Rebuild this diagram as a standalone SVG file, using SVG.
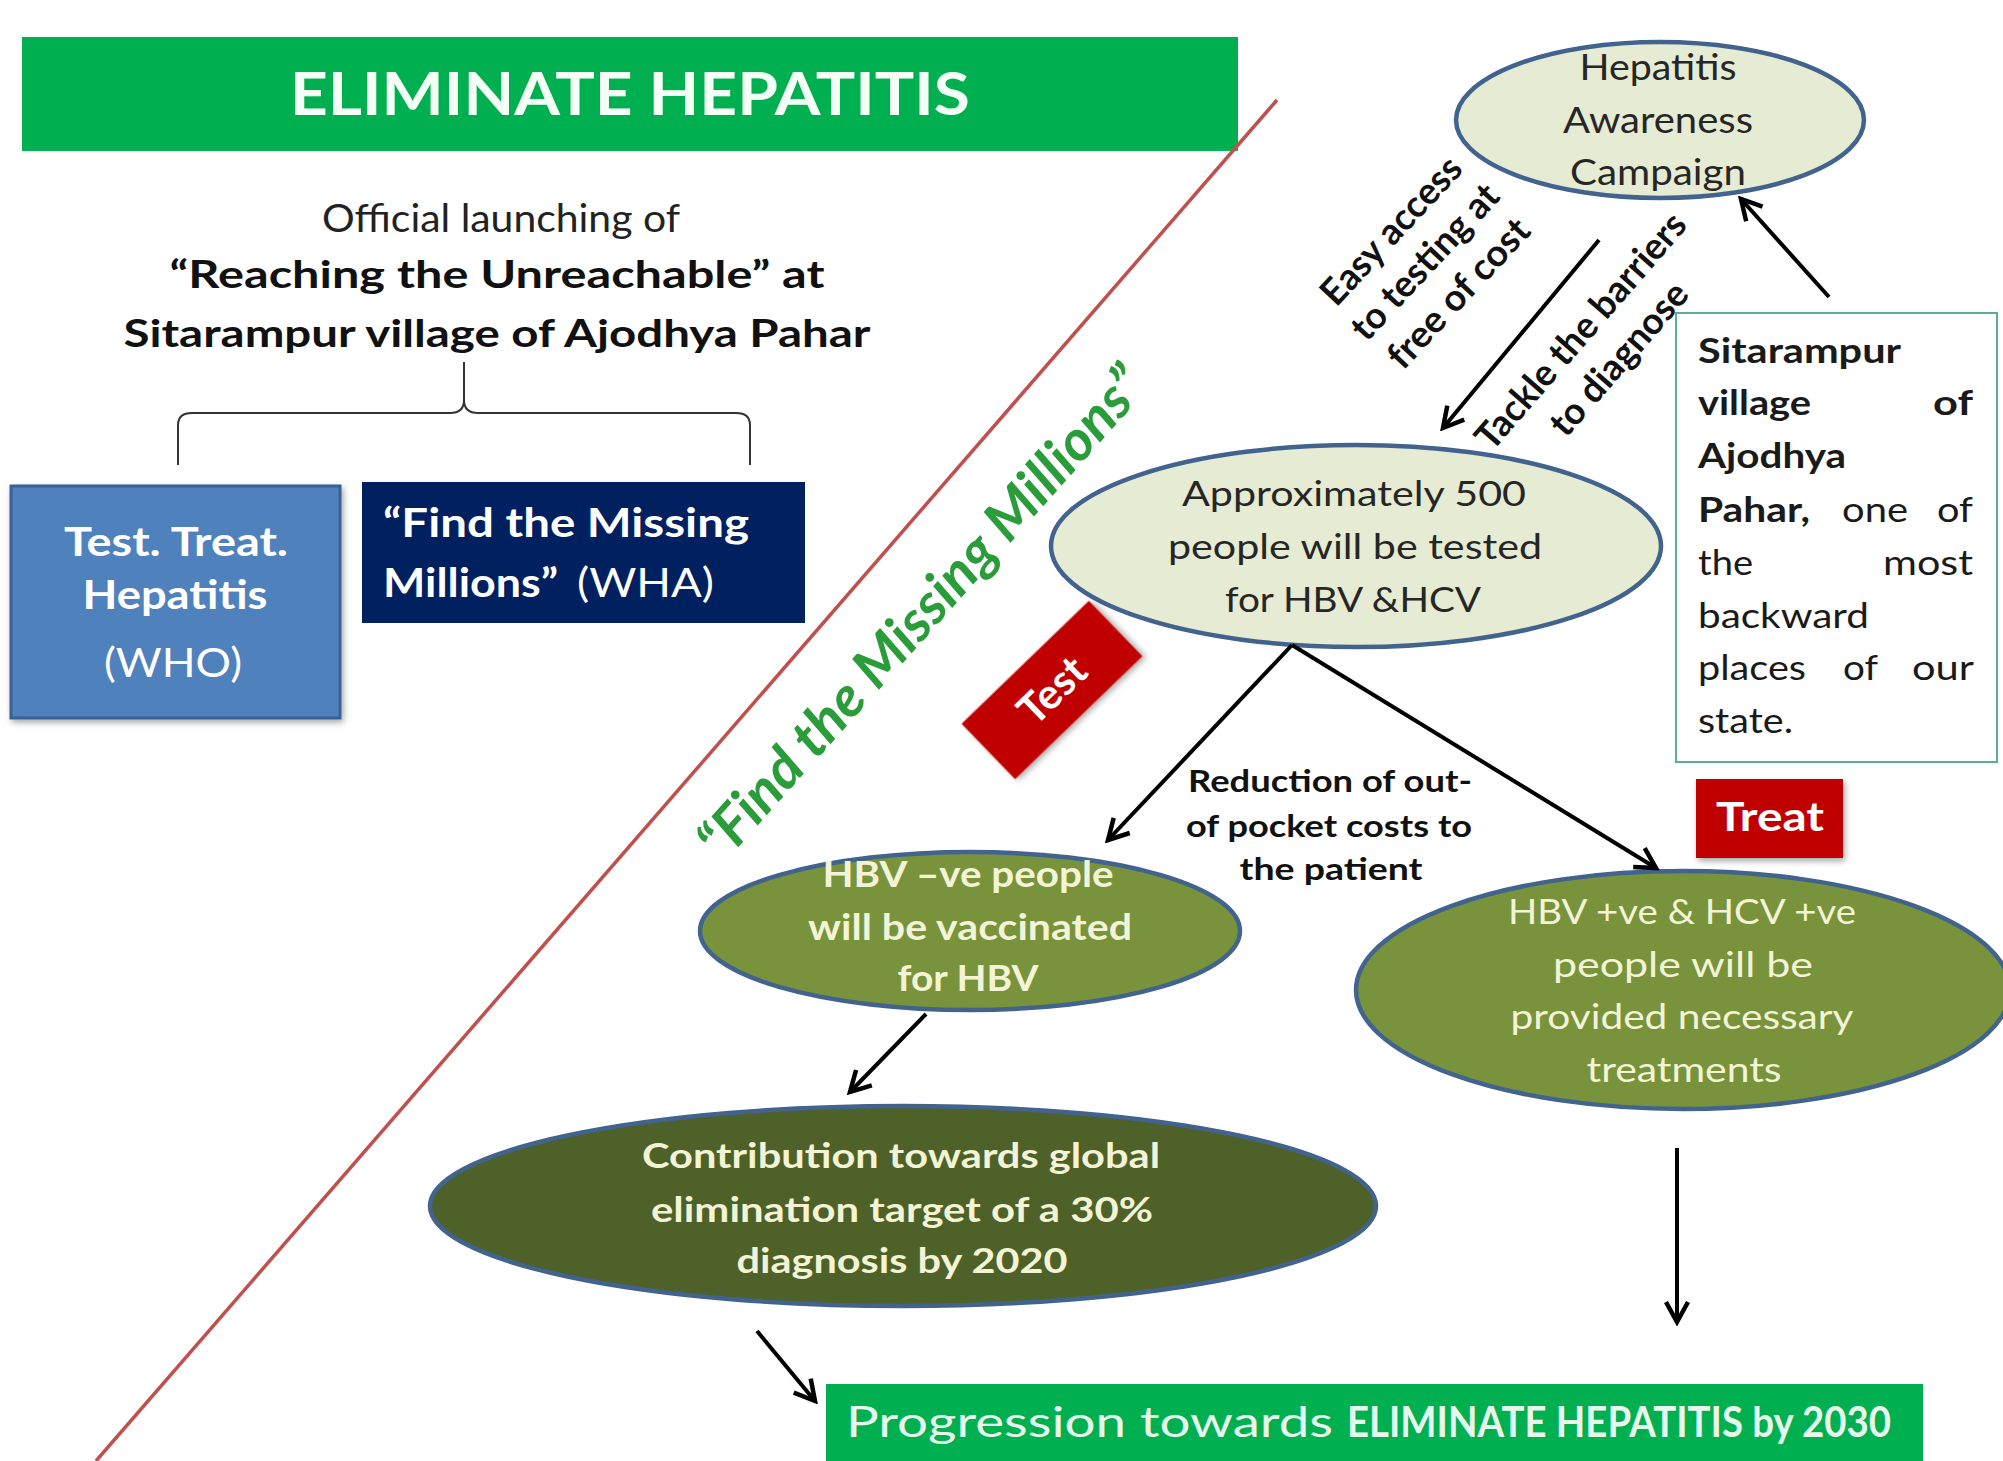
<svg xmlns="http://www.w3.org/2000/svg" width="2003" height="1461" viewBox="0 0 2003 1461">
<defs>
<marker id="arr" markerUnits="userSpaceOnUse" markerWidth="30" markerHeight="30" viewBox="-26 -15 30 30" refX="0" refY="0" orient="auto">
<path d="M-20,-11 L0,0 L-20,11" fill="none" stroke="#000" stroke-width="4.5" stroke-linejoin="miter"/>
</marker>
<filter id="sh" x="-10%" y="-10%" width="130%" height="130%">
<feDropShadow dx="2" dy="3" stdDeviation="3" flood-color="#000" flood-opacity="0.35"/>
</filter>
</defs>
<style>
text{font-family:Lato,"Open Sans","Liberation Sans",sans-serif}
.b{font-weight:700}
.dk{fill:#222}
.wh{fill:#fff}
.cr{fill:#F3F3D6}
.mid{text-anchor:middle}
.ell{stroke:#41638E;stroke-width:4.5}
.con{fill:none;stroke:#000;stroke-width:4;marker-end:url(#arr)}
</style>
<rect width="2003" height="1461" fill="#fff"/>

<g id="title">
<rect x="22" y="37" width="1216" height="114" fill="#00B050"/>
<text class="b mid" x="630" y="115" font-size="60" fill="#F4FFF6" textLength="680" lengthAdjust="spacingAndGlyphs">ELIMINATE HEPATITIS</text>
</g>

<line id="divider" x1="1277" y1="100" x2="96" y2="1461" stroke="#C0504D" stroke-width="3.5"/>

<g id="launch">
<text class="mid dk" x="501" y="232" font-size="38" textLength="358" lengthAdjust="spacingAndGlyphs">Official launching of</text>
<text class="b mid" x="497" y="288" font-size="38" fill="#111" textLength="655" lengthAdjust="spacingAndGlyphs">“Reaching the Unreachable”  at</text>
<text class="b mid" x="497" y="347" font-size="38" fill="#111" textLength="747" lengthAdjust="spacingAndGlyphs">Sitarampur village of Ajodhya Pahar</text>
</g>

<path id="brace" d="M178,465 V425 Q178,413 192,413 H450 Q464,413 464,400 V362 M464,400 Q464,413 478,413 H736 Q750,413 750,425 V465" fill="none" stroke="#333" stroke-width="2"/>

<g id="who">
<rect x="11" y="486" width="329" height="232" fill="#4F81BD" stroke="#3A6193" stroke-width="3" filter="url(#sh)"/>
<text class="b mid wh" x="176" y="556" font-size="40" textLength="224" lengthAdjust="spacingAndGlyphs">Test. Treat.</text>
<text class="b mid wh" x="175" y="609" font-size="40" textLength="185" lengthAdjust="spacingAndGlyphs">Hepatitis</text>
<text class="mid wh" x="173" y="677" font-size="40" textLength="138" lengthAdjust="spacingAndGlyphs">(WHO)</text>
</g>

<g id="wha">
<rect x="362" y="482" width="443" height="141" fill="#002060"/>
<text class="b wh" x="383" y="537" font-size="40" textLength="366" lengthAdjust="spacingAndGlyphs">“Find the Missing</text>
<text class="b wh" x="383" y="597" font-size="40" textLength="175" lengthAdjust="spacingAndGlyphs">Millions”</text>
<text class="wh" x="577" y="597" font-size="40" textLength="137" lengthAdjust="spacingAndGlyphs">(WHA)</text>
</g>

<text id="fmm" class="b mid" transform="translate(936,626) rotate(-48.2)" x="0" y="0" font-size="56" font-style="italic" fill="#2A9D3A" textLength="640" lengthAdjust="spacingAndGlyphs">“Find the Missing Millions”</text>

<g id="awareness">
<ellipse class="ell" cx="1660" cy="120" rx="204" ry="78" fill="#E6EBD3"/>
<text class="mid" x="1658" y="80" font-size="37" fill="#262626" textLength="157" lengthAdjust="spacingAndGlyphs">Hepatitis</text>
<text class="mid" x="1658" y="133" font-size="37" fill="#262626" textLength="190" lengthAdjust="spacingAndGlyphs">Awareness</text>
<text class="mid" x="1658" y="185" font-size="37" fill="#262626" textLength="176" lengthAdjust="spacingAndGlyphs">Campaign</text>
</g>

<g id="lbl-easy" transform="translate(1426,263) rotate(-47)">
<text class="b mid" x="0" y="-35" font-size="37" fill="#111" textLength="188" lengthAdjust="spacingAndGlyphs">Easy access</text>
<text class="b mid" x="0" y="11" font-size="37" fill="#111" textLength="198" lengthAdjust="spacingAndGlyphs">to testing at</text>
<text class="b mid" x="0" y="57" font-size="37" fill="#111" textLength="190" lengthAdjust="spacingAndGlyphs">free of cost</text>
</g>

<g id="lbl-tackle" transform="translate(1582,332) rotate(-49)">
<text class="b mid" x="0" y="11" font-size="37" fill="#111" textLength="300" lengthAdjust="spacingAndGlyphs">Tackle the barriers</text>
<text class="b mid" x="4" y="58" font-size="37" fill="#111" textLength="190" lengthAdjust="spacingAndGlyphs">to diagnose</text>
</g>

<g id="sitarampur" font-size="34" fill="#1a1a1a">
<rect x="1676" y="313" width="321" height="449" fill="#fff" stroke="#5BAF8F" stroke-width="2"/>
<text class="b" x="1698" y="363" textLength="203" lengthAdjust="spacingAndGlyphs">Sitarampur</text>
<text class="b" x="1698" y="415" textLength="113" lengthAdjust="spacingAndGlyphs">village</text>
<text class="b" x="1933" y="415" textLength="40" lengthAdjust="spacingAndGlyphs">of</text>
<text class="b" x="1698" y="468" textLength="148" lengthAdjust="spacingAndGlyphs">Ajodhya</text>
<text class="b" x="1698" y="522" textLength="112" lengthAdjust="spacingAndGlyphs">Pahar,</text>
<text x="1842" y="522" textLength="66" lengthAdjust="spacingAndGlyphs">one</text>
<text x="1937" y="522" textLength="36" lengthAdjust="spacingAndGlyphs">of</text>
<text x="1698" y="575" textLength="55" lengthAdjust="spacingAndGlyphs">the</text>
<text x="1883" y="575" textLength="90" lengthAdjust="spacingAndGlyphs">most</text>
<text x="1698" y="628" textLength="171" lengthAdjust="spacingAndGlyphs">backward</text>
<text x="1698" y="680" textLength="108" lengthAdjust="spacingAndGlyphs">places</text>
<text x="1843" y="680" textLength="35" lengthAdjust="spacingAndGlyphs">of</text>
<text x="1912" y="680" textLength="62" lengthAdjust="spacingAndGlyphs">our</text>
<text x="1698" y="733" textLength="95" lengthAdjust="spacingAndGlyphs">state.</text>
</g>

<g id="tested">
<ellipse class="ell" cx="1356" cy="546" rx="305" ry="101" fill="#E6EBD3"/>
<text class="mid" x="1354" y="506" font-size="34" fill="#262626" textLength="344" lengthAdjust="spacingAndGlyphs">Approximately 500</text>
<text class="mid" x="1355" y="559" font-size="34" fill="#262626" textLength="374" lengthAdjust="spacingAndGlyphs">people will be tested</text>
<text class="mid" x="1353" y="612" font-size="34" fill="#262626" textLength="256" lengthAdjust="spacingAndGlyphs">for HBV &amp;HCV</text>
</g>

<g id="test-tag" transform="translate(1052,690) rotate(-44)">
<rect x="-88.5" y="-38.5" width="177" height="77" fill="#C00000" filter="url(#sh)"/>
<text class="b mid wh" x="0" y="15" font-size="42">Test</text>
</g>

<g id="treat-tag">
<rect x="1696" y="779" width="147" height="79" fill="#C00000" filter="url(#sh)"/>
<text class="b mid wh" x="1770" y="831" font-size="40" textLength="108" lengthAdjust="spacingAndGlyphs">Treat</text>
</g>

<g id="lbl-reduction" font-size="31" fill="#111">
<text class="b mid" x="1330" y="792" textLength="284" lengthAdjust="spacingAndGlyphs">Reduction of out-</text>
<text class="b mid" x="1329" y="837" textLength="286" lengthAdjust="spacingAndGlyphs">of pocket costs to</text>
<text class="b mid" x="1331" y="880" textLength="183" lengthAdjust="spacingAndGlyphs">the patient</text>
</g>

<g id="vaccinated">
<ellipse class="ell" cx="970" cy="931" rx="270" ry="79" fill="#78933C"/>
<text class="b mid cr" x="968" y="887" font-size="37" textLength="291" lengthAdjust="spacingAndGlyphs">HBV –ve people</text>
<text class="b mid cr" x="970" y="940" font-size="37" textLength="324" lengthAdjust="spacingAndGlyphs">will be vaccinated</text>
<text class="b mid cr" x="968" y="991" font-size="37" textLength="141" lengthAdjust="spacingAndGlyphs">for HBV</text>
</g>

<g id="treatments">
<ellipse class="ell" cx="1683" cy="990" rx="327" ry="119" fill="#78933C"/>
<text class="mid cr" x="1682" y="924" font-size="35" textLength="348" lengthAdjust="spacingAndGlyphs">HBV +ve &amp; HCV +ve</text>
<text class="mid cr" x="1683" y="977" font-size="35" textLength="260" lengthAdjust="spacingAndGlyphs">people will be</text>
<text class="mid cr" x="1682" y="1029" font-size="35" textLength="343" lengthAdjust="spacingAndGlyphs">provided necessary</text>
<text class="mid cr" x="1684" y="1082" font-size="35" textLength="195" lengthAdjust="spacingAndGlyphs">treatments</text>
</g>

<g id="contribution">
<ellipse class="ell" cx="903" cy="1206" rx="473" ry="100" fill="#4E6128"/>
<text class="b mid cr" x="901" y="1168" font-size="35" textLength="518" lengthAdjust="spacingAndGlyphs">Contribution towards global</text>
<text class="b mid cr" x="902" y="1222" font-size="35" textLength="502" lengthAdjust="spacingAndGlyphs">elimination target of a 30%</text>
<text class="b mid cr" x="902" y="1273" font-size="35" textLength="331" lengthAdjust="spacingAndGlyphs">diagnosis by 2020</text>
</g>

<g id="progression">
<rect x="826" y="1384" width="1097" height="77" fill="#00B050"/>
<text x="846" y="1437" font-size="42" fill="#E8F7EC" textLength="487" lengthAdjust="spacingAndGlyphs">Progression towards</text>
<text class="b" x="1347" y="1437" font-size="42" fill="#E8F7EC" textLength="544" lengthAdjust="spacingAndGlyphs">ELIMINATE HEPATITIS by 2030</text>
</g>

<g id="connectors">
<path class="con" d="M1599,240 L1443,428"/>
<path class="con" d="M1829,297 L1741,199"/>
<path class="con" d="M1292,645 L1108,840"/>
<path class="con" d="M1292,645 L1656,868"/>
<path class="con" d="M926,1014 L850,1092"/>
<path class="con" d="M1677,1148 L1677,1322"/>
<path class="con" d="M757,1331 L815,1401"/>
</g>
</svg>
